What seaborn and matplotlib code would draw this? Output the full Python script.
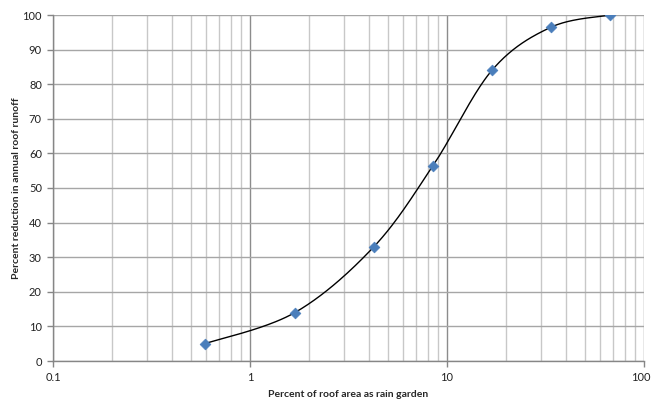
import numpy as np
import pandas as pd
import matplotlib
matplotlib.use("Agg")
import matplotlib.pyplot as plt
import matplotlib.transforms as mtransforms
import seaborn as sns

# values
roof_pct = [0.59, 1.69, 4.25, 8.5, 16.9, 33.8, 67.6]
runoff_reduction = [5, 14, 33, 56.5, 84, 96.5, 100]

x_ticks = [0.1, 1, 10, 100]
x_labels = ["0.1", "1", "10", "100"]
y_ticks = list(range(0, 101, 10))

sns.set_style("white")
plt.rcParams["font.family"] = ["Lato", "DejaVu Sans"]

fig = plt.figure(figsize=(6.52, 3.99), dpi=100)
ax = fig.add_axes([53 / 652, 1 - 361 / 399, (644 - 53) / 652, (361 - 15) / 399])
ax.set_xscale("log")
ax.set_xlim(0.1, 100)
ax.set_ylim(0, 100)


def smooth(xs, ys, n=40):
    # Excel-style smoothed line: cubic bezier through the points in screen-like space
    u = np.log10(xs) * 197.0
    v = np.asarray(ys, dtype=float) * 3.46
    p = np.column_stack([u, v])
    pts = []
    for i in range(len(p) - 1):
        p0 = p[i - 1] if i > 0 else p[i]
        p3 = p[i + 2] if i + 2 < len(p) else p[i + 1]
        c1 = p[i] + (p[i + 1] - p0) / 6
        c2 = p[i + 1] - (p3 - p[i]) / 6
        t = np.linspace(0, 1, n)[:, None]
        seg = ((1 - t) ** 3) * p[i] + 3 * ((1 - t) ** 2) * t * c1 + 3 * (1 - t) * t ** 2 * c2 + t ** 3 * p[i + 1]
        pts.append(seg if i == 0 else seg[1:])
    pts = np.vstack(pts)
    return 10 ** (pts[:, 0] / 197.0), pts[:, 1] / 3.46


cx, cy = smooth(roof_pct, runoff_reduction)
curve = pd.DataFrame({"x": cx, "y": cy})
sns.lineplot(data=curve, x="x", y="y", sort=False, estimator=None, color="black",
             linewidth=1.0, ax=ax, zorder=3)
pts = pd.DataFrame({"x": roof_pct, "y": runoff_reduction})
sns.scatterplot(data=pts, x="x", y="y", marker="D", s=30, color="#4a7ebb",
                edgecolor="#4a7ebb", linewidth=0.5, ax=ax, zorder=4)

ax.set_xticks(x_ticks)
ax.set_xticklabels(x_labels)
ax.set_yticks(y_ticks)
ax.xaxis.set_minor_locator(matplotlib.ticker.LogLocator(base=10, subs=np.arange(2, 10)))
ax.xaxis.set_minor_formatter(matplotlib.ticker.NullFormatter())
ax.grid(True, which="major", axis="y", color="#a6a6a6", linewidth=1.0)
ax.grid(True, which="major", axis="x", color="#8c8c8c", linewidth=1.0)
ax.grid(True, which="minor", axis="x", color="#c8c8c8", linewidth=1.0)
ax.set_axisbelow(True)

for s in ["top", "right"]:
    ax.spines[s].set_visible(False)
for s in ["left", "bottom"]:
    ax.spines[s].set_color("#868686")
    ax.spines[s].set_linewidth(1.0)

ax.tick_params(axis="both", which="major", direction="out", length=4, width=1,
               color="#868686", labelsize=8, labelcolor="#222222",
               left=True, bottom=True)
ax.tick_params(axis="y", which="major", pad=4)
ax.tick_params(axis="x", which="major", pad=4)
ax.tick_params(axis="x", which="minor", length=0)

# keep the last x label inside the figure edge
last = ax.get_xticklabels()[-1]
last.set_transform(last.get_transform() + mtransforms.ScaledTranslation(-3 / 100, 0, fig.dpi_scale_trans))

ax.set_xlabel("Percent of roof area as rain garden", fontsize=7.5, fontweight="bold", labelpad=5)
ax.set_ylabel("Percent reduction in annual roof runoff", fontsize=7.5, fontweight="bold", labelpad=1)

fig.savefig("out.png", dpi=100)
